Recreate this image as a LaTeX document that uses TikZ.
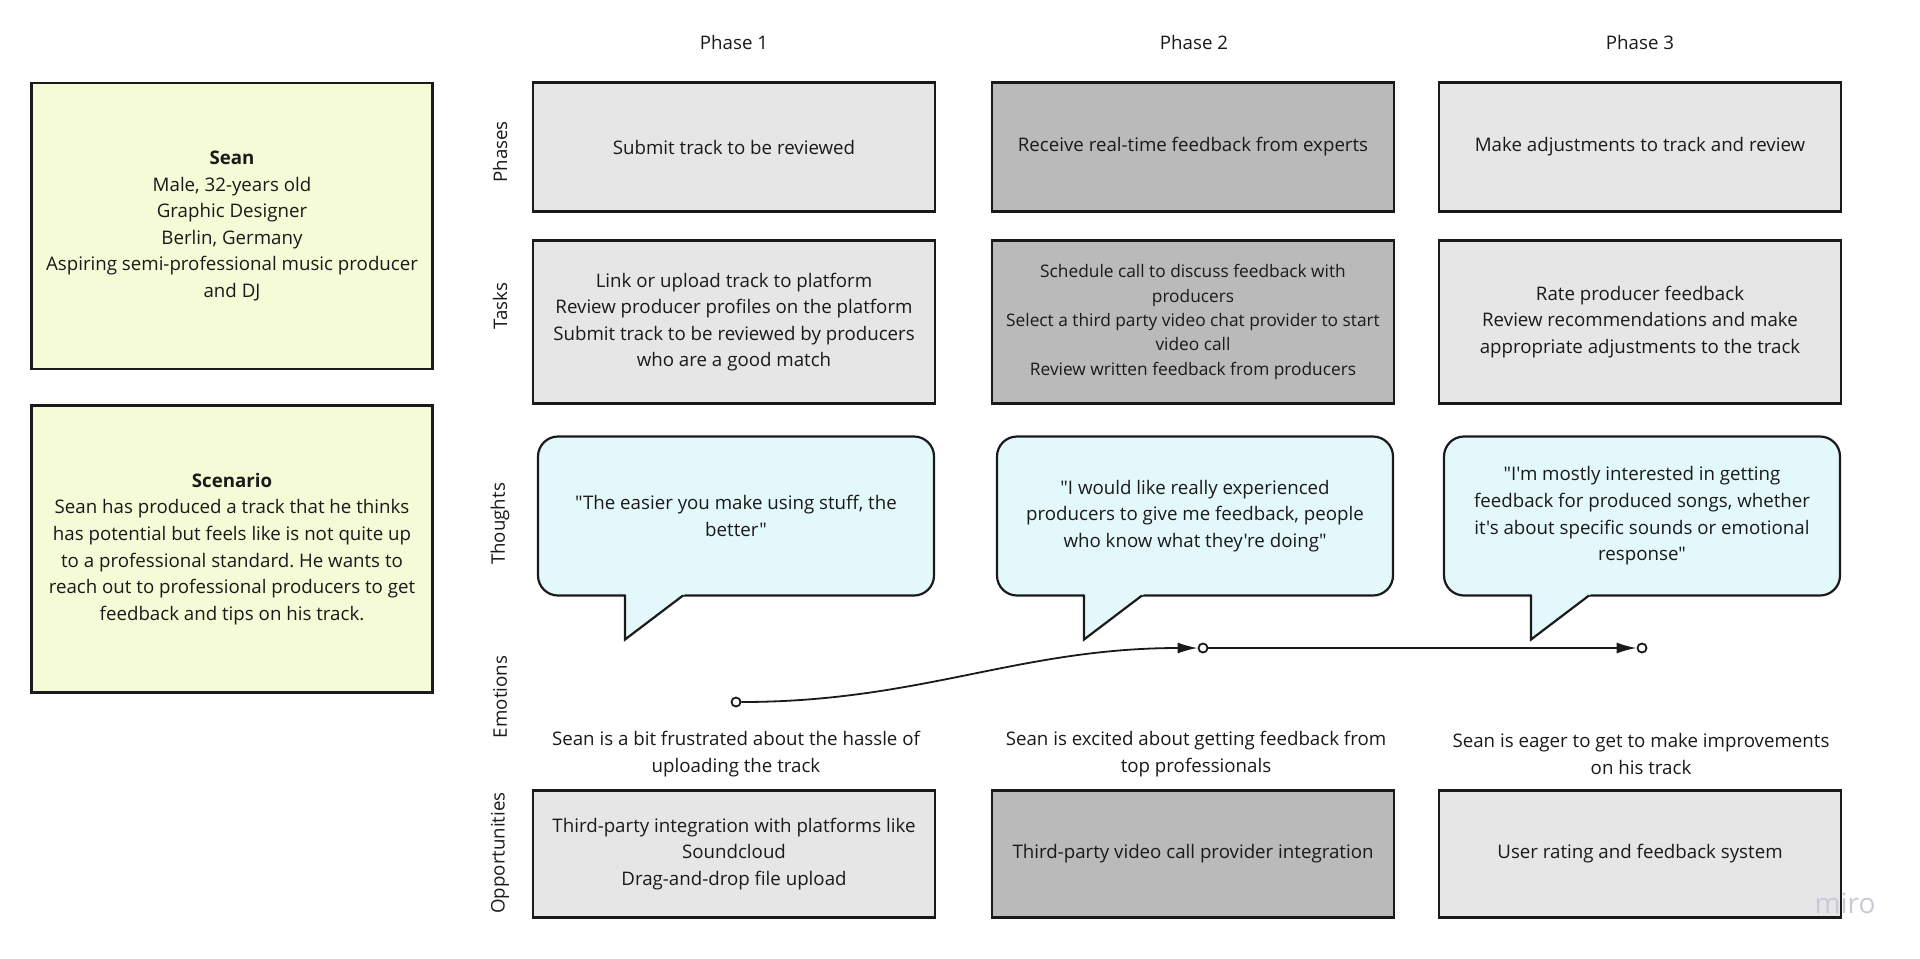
\documentclass[tikz,border=0pt]{standalone}
\usepackage{fontspec}
\setmainfont{Open Sans}[Ligatures=TeXOff]
\usetikzlibrary{arrows.meta,calc}
\frenchspacing

\definecolor{grisclair}{HTML}{E6E6E6}
\definecolor{grisfonce}{HTML}{BABABA}
\definecolor{jaune}{HTML}{F5FAD7}
\definecolor{bulle}{HTML}{E3F8FA}
\definecolor{encre}{HTML}{1A1A1A}
\definecolor{filigrane}{HTML}{C9C9D8}

\tikzset{
  texte/.style={align=center, text=encre, font=\fontsize{9.35}{13.3}\selectfont},
  bord/.style={draw=encre, line width=1.1pt},
  carte/.style={texte, bord, outer sep=0pt, minimum width=201pt},
  pensee/.style={texte, bord, fill=bulle, outer sep=0pt, rounded corners=10pt,
    minimum width=198pt, minimum height=79.5pt},
  etiquette/.style={texte, rotate=90},
  point/.style={circle, draw=encre, line width=0.9pt, fill=white,
    inner sep=0pt, minimum size=4.5pt},
  fleche/.style={draw=encre, line width=0.9pt, -{Latex[length=10pt,width=5.5pt]}}
}

\begin{document}
\begin{tikzpicture}[x=0.5pt,y=-0.5pt]

% Fond
\fill[white] (0,0) rectangle (1920,958);
\useasboundingbox (0,0) rectangle (1920,958);

% Persona et scenario
\node[carte, fill=jaune, minimum width=200.5pt, minimum height=143pt]
(persona) at (232,226)
{\textbf{Sean}\\Male, 32-years old\\Graphic Designer\\Berlin, Germany\\
Aspiring semi-professional music producer\\and DJ};

\node[carte, fill=jaune, minimum width=200.5pt, minimum height=143.5pt]
(scenario) at (232,549)
{\textbf{Scenario}\\Sean has produced a track that he thinks\\
has potential but feels like is not quite up\\
to a professional standard. He wants to\\
reach out to professional producers to get\\
feedback and tips on his track.};

% Titres des phases
\foreach \i/\x in {1/734,2/1194,3/1640}
{
    \node[texte] (titre\i) at (\x,42) {Phase \i};
}

% Etiquettes des lignes
\foreach \nom/\y in {Phases/152,Tasks/306,Thoughts/524,Emotions/697,Opportunities/853}
{
    \node[etiquette] (l\nom) at (500,\y) {\nom};
}

% Phases
\node[carte, fill=grisclair, minimum height=64.5pt]
(phase1) at (734,147) {Submit track to be reviewed};
\node[carte, fill=grisfonce, minimum height=64.5pt]
(phase2) at (1193,147) {Receive real-time feedback from experts};
\node[carte, fill=grisclair, minimum height=64.5pt]
(phase3) at (1640,147) {Make adjustments to track and review};

% Taches
\node[carte, fill=grisclair, minimum height=81.5pt]
(tache1) at (734,322)
{Link or upload track to platform\\Review producer profiles on the platform\\
Submit track to be reviewed by producers\\who are a good match};
\node[carte, fill=grisfonce, minimum height=81.5pt,
font=\fontsize{8.65}{12.2}\selectfont]
(tache2) at (1193,322)
{Schedule call to discuss feedback with\\producers\\
Select a third party video chat provider to start\\video call\\
Review written feedback from producers};
\node[carte, fill=grisclair, minimum height=81.5pt]
(tache3) at (1640,322)
{Rate producer feedback\\Review recommendations and make\\
appropriate adjustments to the track};

% Pensees
\node[pensee] (pensee1) at (736,516)
{"The easier you make using stuff, the\\better"};
\node[pensee] (pensee2) at (1195,516)
{"I would like really experienced\\producers to give me feedback, people\\
who know what they're doing"};
\node[pensee] (pensee3) at (1642,516)
{"I'm mostly interested in getting\\feedback for produced songs, whether\\
it's about specific sounds or emotional\\response"};

% Queues des bulles
\foreach \n in {1,2,3}
{
    \coordinate (queue\n) at ($(pensee\n.south west)+(87,0)$);
    \fill[bulle]
    ($(queue\n)+(0,-3)$) -- ($(queue\n)+(0,44)$)
    -- ($(queue\n)+(58,0)$) -- ($(queue\n)+(62,-3)$) -- cycle;
    \draw[bord, line join=miter]
    ($(queue\n)+(0,-1)$) -- ($(queue\n)+(0,44)$) -- ($(queue\n)+(58,0)$);
}

% Emotions
\node[point] (emo1) at (736,702) {};
\node[point] (emo2) at (1203,648) {};
\node[point] (emo3) at (1642,648) {};

\draw[fleche] (emo1) to[out=0,in=180] (emo2);
\draw[fleche] (emo2) -- (emo3);

\node[texte] (ressenti1) at (736,754)
{Sean is a bit frustrated about the hassle of\\uploading the track};
\node[texte] (ressenti2) at (1196,754)
{Sean is excited about getting feedback from\\top professionals};
\node[texte] (ressenti3) at (1641,754)
{Sean is eager to get to make improvements\\on his track};

% Opportunites
\node[carte, fill=grisclair, minimum height=63.5pt]
(oppo1) at (734,854)
{Third-party integration with platforms like\\Soundcloud\\Drag-and-drop file upload};
\node[carte, fill=grisfonce, minimum height=63.5pt]
(oppo2) at (1193,854) {Third-party video call provider integration};
\node[carte, fill=grisclair, minimum height=63.5pt]
(oppo3) at (1640,854) {User rating and feedback system};

% Filigrane
\node[text=filigrane, font=\fontsize{14}{14}\selectfont]
(miro) at (1845,903) {miro};

\end{tikzpicture}
\end{document}
